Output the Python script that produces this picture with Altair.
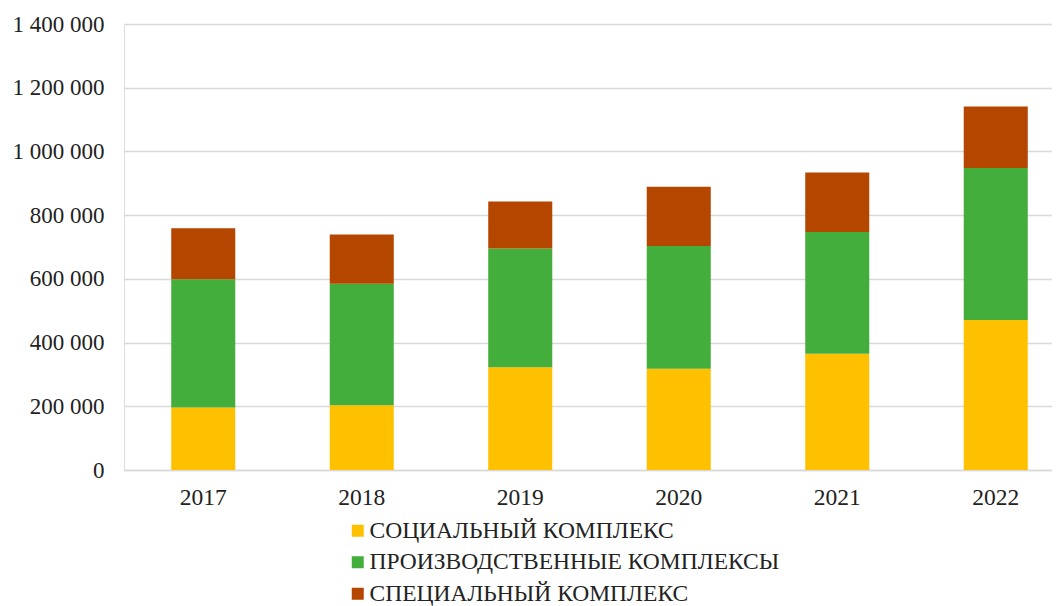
import altair as alt
import pandas as pd

years = ["2017", "2018", "2019", "2020", "2021", "2022"]
series = ["СОЦИАЛЬНЫЙ КОМПЛЕКС", "ПРОИЗВОДСТВЕННЫЕ КОМПЛЕКСЫ", "СПЕЦИАЛЬНЫЙ КОМПЛЕКС"]
social = [196000, 203000, 322500, 318000, 365000, 471000]
production = [403000, 382000, 372500, 385000, 382000, 477000]
special = [160000, 154000, 147500, 186000, 187000, 193000]
colors = ["#FFC000", "#43AE3B", "#B54600"]
y_ticks = [0, 200000, 400000, 600000, 800000, 1000000, 1200000, 1400000]

rows = []
for i, y in enumerate(years):
    for k, (name, vals) in enumerate(zip(series, [social, production, special])):
        rows.append({"year": y, "series": name, "value": vals[i], "order": k})
df = pd.DataFrame(rows)

FONT = "Liberation Serif"

chart = alt.Chart(df).mark_bar().encode(
    x=alt.X("year:N", title=None, sort=years,
            scale=alt.Scale(range=[0, 951], paddingInner=0.596, paddingOuter=0.298),
            axis=alt.Axis(labelAngle=0, labelFont=FONT, labelFontSize=23.5, labelColor="#222222",
                          ticks=False, domainColor="#d9d9d9", domainWidth=1.3,
                          labelPadding=15, grid=False)),
    y=alt.Y("value:Q", title=None, stack="zero",
            scale=alt.Scale(domain=[0, 1400000], nice=False),
            axis=alt.Axis(values=y_ticks, labelFont=FONT, labelFontSize=23, labelColor="#222222",
                          labelExpr="replace(format(datum.value, ','), regexp(',', 'g'), ' ')",
                          ticks=False, domain=False, gridColor="#d9d9d9", gridWidth=1.3,
                          labelPadding=20)),
    color=alt.Color("series:N", sort=series,
                    scale=alt.Scale(domain=series, range=colors),
                    legend=alt.Legend(title=None, orient="none", legendX=222, legendY=495,
                                      direction="vertical", symbolType="square", symbolSize=144,
                                      symbolStrokeWidth=0, labelFont=FONT, labelFontSize=23.5,
                                      labelColor="#222222", rowPadding=6.5, labelOffset=0,
                                      labelLimit=700)),
    order=alt.Order("order:Q"),
).properties(
    width=928, height=446,
    autosize=alt.AutoSizeParams(type="none"),
    padding={"left": 116, "top": 16, "right": 0, "bottom": 136},
).configure_view(stroke=None).configure(background="white").configure_legend(
    labelFont=FONT
)

chart.save("out.html", embed_options={"renderer": "svg", "actions": False})
